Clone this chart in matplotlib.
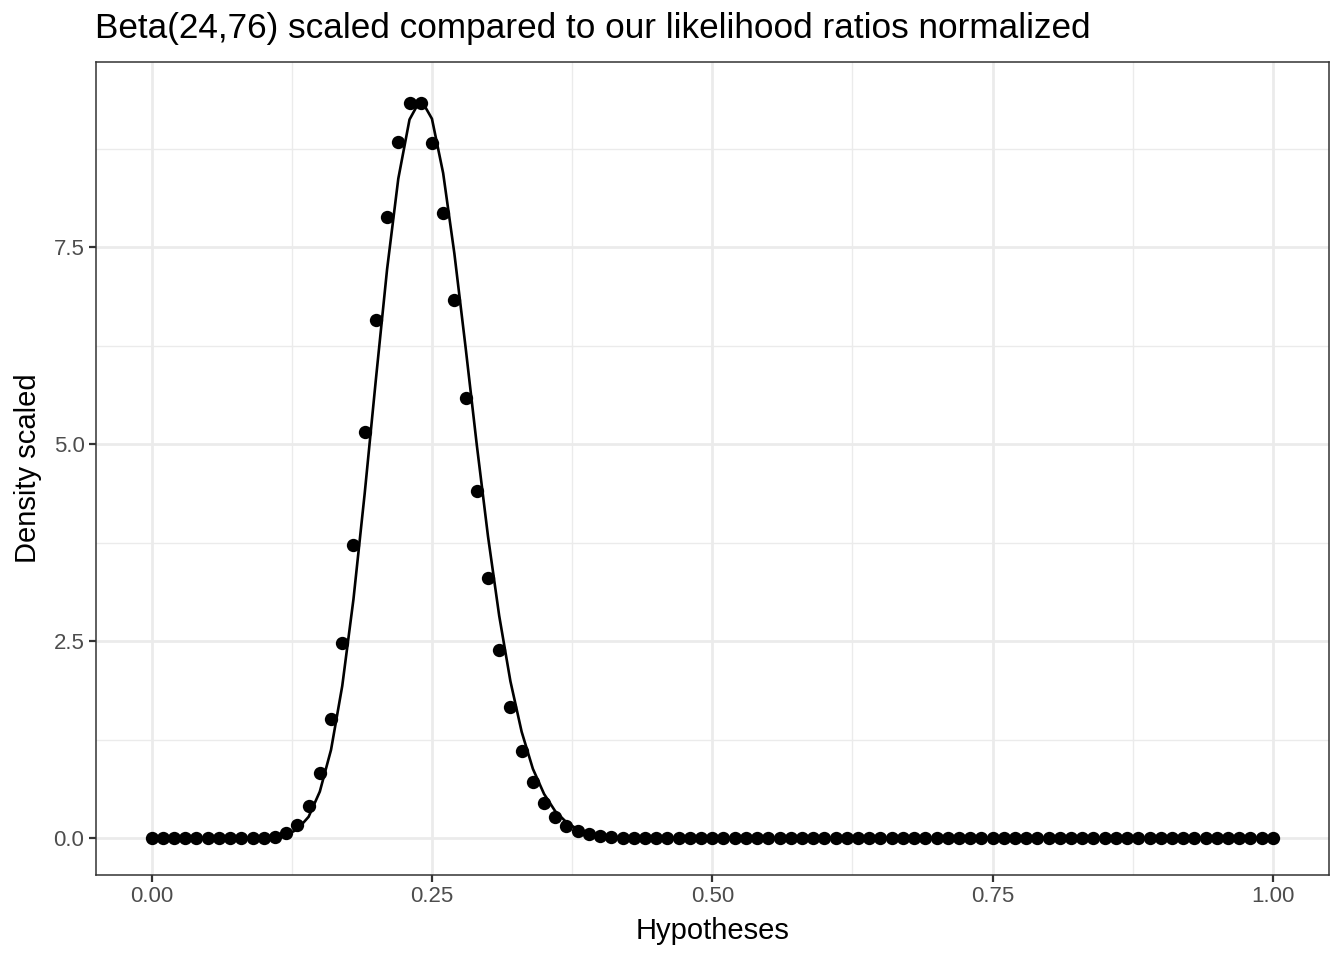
import matplotlib
matplotlib.use("Agg")
import matplotlib.pyplot as plt
from matplotlib.ticker import MultipleLocator

plt.rcParams["font.family"] = ["Liberation Sans", "DejaVu Sans"]

# hypotheses 0.00 .. 1.00 in steps of 0.01
hypotheses = [i / 100 for i in range(101)]

# likelihood ratios normalized (points)
ratio_values = [0.0] * 11 + [
    0.01, 0.06, 0.17, 0.41, 0.83, 1.51, 2.48, 3.72, 5.15, 6.58,   # 0.11 - 0.20
    7.88, 8.83, 9.33, 9.33, 8.82, 7.94, 6.83, 5.59, 4.40, 3.30,   # 0.21 - 0.30
    2.39, 1.67, 1.11, 0.71, 0.44, 0.27, 0.15, 0.09, 0.05, 0.03,   # 0.31 - 0.40
    0.01, 0.005,
] + [0.0] * 58

# Beta(24,76) scaled (line)
beta_values = [0.0] * 10 + [
    0.003, 0.012, 0.04, 0.11, 0.27, 0.59, 1.12, 1.93, 3.03, 4.37,  # 0.10 - 0.19
    5.82, 7.22, 8.37, 9.12, 9.38, 9.13, 8.44, 7.42, 6.23, 4.99,    # 0.20 - 0.29
    3.83, 2.82, 1.99, 1.35, 0.88, 0.56, 0.34, 0.20, 0.11, 0.06,    # 0.30 - 0.39
    0.031, 0.016, 0.008, 0.004, 0.002,                             # 0.40 - 0.44
] + [0.0] * 56

title = "Beta(24,76) scaled compared to our likelihood ratios normalized"

fig = plt.figure(figsize=(13.44, 9.6), dpi=100)
ax = fig.add_axes([0.0711, 0.0885, 0.9177, 0.8469])

ax.plot(hypotheses, beta_values, color="black", lw=1.9, zorder=3)
ax.scatter(hypotheses, ratio_values, s=92, color="black", lw=0, zorder=4)

ax.set_xlim(-0.05, 1.05)
ax.set_ylim(-0.469, 9.85)
ax.xaxis.set_minor_locator(MultipleLocator(0.125))
ax.yaxis.set_minor_locator(MultipleLocator(1.25))
ax.set_xticks([0, 0.25, 0.5, 0.75, 1.0])
ax.set_xticklabels(["0.00", "0.25", "0.50", "0.75", "1.00"])
ax.set_yticks([0, 2.5, 5.0, 7.5])
ax.set_yticklabels(["0.0", "2.5", "5.0", "7.5"])

ax.grid(which="major", color="#EBEBEB", lw=2.0, zorder=0)
ax.grid(which="minor", color="#EBEBEB", lw=1.0, zorder=0)
ax.set_axisbelow(True)
for sp in ax.spines.values():
    sp.set_color("#333333")
    sp.set_linewidth(1.1)
ax.tick_params(which="major", length=5, width=1.6, color="#333333",
               labelcolor="#4D4D4D", labelsize=16, pad=3)
ax.tick_params(which="minor", length=0)

ax.set_xlabel("Hypotheses", fontsize=21, color="black", labelpad=7)
ax.set_ylabel("Density scaled", fontsize=21, color="black", labelpad=8)
fig.text(0.0705, 0.988, title, fontsize=25.3, ha="left", va="top")

fig.savefig("out.png", dpi=100)
